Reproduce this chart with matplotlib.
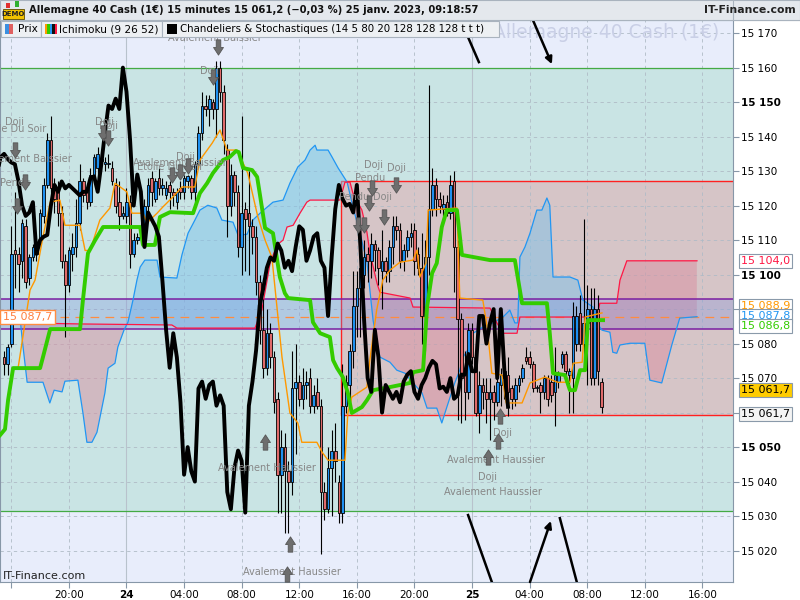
import numpy as np
import matplotlib
matplotlib.use("Agg")
import matplotlib.pyplot as plt
from matplotlib.path import Path
from matplotlib.patches import Rectangle
from matplotlib.transforms import blended_transform_factory

# 15 min candles, index 0 = 23 janv. 15:30
opens = [15076, 15074, 15080, 15107, 15106, 15104, 15114, 15099, 15105, 15108,
         15110, 15117, 15126, 15139, 15126, 15124, 15118, 15104, 15097, 15106,
         15108, 15115, 15127, 15124, 15121, 15129, 15131, 15133, 15132, 15132,
         15131, 15126, 15121, 15117, 15117, 15121, 15106, 15110, 15111, 15111,
         15120, 15128, 15122, 15128, 15125, 15123, 15126, 15124, 15121, 15125,
         15124, 15127, 15128, 15124, 15132, 15141, 15149, 15148, 15150, 15148,
         15160, 15153, 15136, 15120, 15129, 15124, 15108, 15119, 15118, 15114,
         15111, 15098, 15084, 15073, 15083, 15076, 15064, 15042, 15050, 15043,
         15040, 15067, 15069, 15064, 15068, 15070, 15062, 15066, 15062, 15037,
         15032, 15044, 15049, 15040, 15031, 15062, 15068, 15078, 15091, 15096,
         15100, 15106, 15104, 15109, 15107, 15101, 15104, 15101, 15108, 15114,
         15113, 15104, 15107, 15111, 15113, 15106, 15102, 15088, 15105, 15119,
         15126, 15122, 15119, 15121, 15118, 15127, 15108, 15087, 15072, 15066,
         15084, 15076, 15060, 15068, 15066, 15064, 15066, 15063, 15068, 15070,
         15071, 15067, 15064, 15068, 15070, 15076, 15076, 15074, 15067, 15068,
         15066, 15070, 15069, 15066, 15069, 15074, 15077, 15071, 15070, 15080,
         15089, 15080, 15086, 15090, 15070, 15090, 15069]
highs = [15078, 15080, 15114, 15124, 15108, 15116, 15116, 15106, 15109, 15110,
         15119, 15128, 15141, 15146, 15128, 15127, 15120, 15106, 15108, 15112,
         15122, 15132, 15128, 15125, 15131, 15135, 15137, 15135, 15134, 15135,
         15133, 15128, 15127, 15120, 15125, 15123, 15112, 15112, 15115, 15122,
         15128, 15130, 15128, 15131, 15128, 15127, 15127, 15125, 15125, 15127,
         15129, 15129, 15129, 15133, 15143, 15153, 15152, 15152, 15151, 15162,
         15162, 15155, 15138, 15132, 15130, 15126, 15146, 15121, 15130, 15116,
         15114, 15100, 15093, 15090, 15086, 15078, 15066, 15055, 15054, 15046,
         15078, 15080, 15071, 15073, 15072, 15073, 15068, 15070, 15064, 15040,
         15050, 15055, 15057, 15042, 15074, 15071, 15080, 15101, 15101, 15105,
         15110, 15108, 15112, 15110, 15108, 15113, 15105, 15110, 15117, 15117,
         15115, 15109, 15113, 15115, 15115, 15108, 15112, 15110, 15155, 15131,
         15128, 15124, 15123, 15123, 15129, 15130, 15110, 15089, 15078, 15086,
         15086, 15080, 15072, 15070, 15070, 15070, 15068, 15072, 15073, 15074,
         15076, 15068, 15070, 15071, 15074, 15079, 15078, 15075, 15068, 15069,
         15071, 15071, 15071, 15079, 15072, 15078, 15078, 15073, 15092, 15091,
         15094, 15116, 15097, 15096, 15096, 15094, 15070]
lows = [15071, 15071, 15079, 15096, 15095, 15099, 15096, 15097, 15104, 15104,
        15109, 15115, 15125, 15122, 15118, 15114, 15102, 15082, 15095, 15101,
        15105, 15113, 15121, 15119, 15120, 15127, 15127, 15130, 15130, 15131,
        15126, 15118, 15113, 15116, 15115, 15102, 15105, 15109, 15109, 15110,
        15118, 15120, 15121, 15123, 15123, 15122, 15119, 15120, 15119, 15122,
        15122, 15125, 15122, 15121, 15131, 15139, 15146, 15143, 15145, 15140,
        15150, 15135, 15111, 15117, 15120, 15105, 15100, 15101, 15100, 15106,
        15094, 15080, 15070, 15071, 15073, 15060, 15031, 15031, 15025, 15025,
        15036, 15048, 15062, 15061, 15064, 15060, 15060, 15061, 15019, 15029,
        15031, 15030, 15040, 15028, 15028, 15060, 15063, 15073, 15082, 15082,
        15096, 15098, 15099, 15101, 15097, 15090, 15098, 15098, 15103, 15110,
        15102, 15101, 15105, 15108, 15100, 15100, 15080, 15078, 15100, 15117,
        15117, 15118, 15117, 15117, 15116, 15095, 15058, 15057, 15058, 15064,
        15074, 15059, 15054, 15061, 15057, 15052, 15058, 15062, 15062, 15064,
        15059, 15061, 15062, 15066, 15069, 15074, 15073, 15066, 15066, 15060,
        15064, 15062, 15063, 15056, 15067, 15073, 15069, 15060, 15060, 15078,
        15078, 15073, 15068, 15068, 15068, 15068, 15060]
closes = [15074, 15079, 15106, 15106, 15103, 15115, 15098, 15105, 15108, 15106,
          15118, 15126, 15139, 15125, 15122, 15118, 15104, 15097, 15107, 15108,
          15115, 15127, 15123, 15121, 15129, 15134, 15135, 15133.5, 15132.5, 15132,
          15127, 15120, 15117, 15118, 15121, 15106, 15110, 15111, 15111.5, 15120,
          15126, 15124, 15127, 15125, 15126, 15125, 15124, 15123, 15124, 15124,
          15128, 15128.5, 15124, 15132, 15141, 15149, 15148, 15151, 15148, 15160,
          15153, 15139, 15120, 15129, 15124, 15108, 15118, 15116, 15114, 15111,
          15098, 15084, 15073, 15083, 15076, 15063, 15042, 15050, 15043, 15040,
          15067, 15069, 15064, 15068, 15069, 15062, 15065, 15062, 15037, 15032,
          15044, 15049, 15046, 15031, 15062, 15069, 15078, 15091, 15096, 15102,
          15105, 15104, 15109, 15107, 15102, 15104, 15101, 15108, 15114, 15113,
          15104, 15107, 15111, 15112, 15104, 15102, 15088, 15105, 15119, 15126,
          15122, 15120, 15120.5, 15118, 15126, 15108, 15087, 15070, 15066, 15084,
          15076, 15060, 15068, 15066, 15064, 15066, 15063, 15069, 15071, 15072,
          15066, 15064, 15068, 15070, 15073, 15075, 15074, 15067, 15067.5, 15066,
          15070, 15064, 15065, 15071, 15071, 15077, 15072, 15072, 15088, 15088,
          15080, 15086, 15090, 15070, 15090, 15072, 15061.7]

# Ichimoku lines (candle index, price)
tenkan_i = [3.9, 7.2, 8.6, 10.8, 12.8, 15.5, 16.9, 21.1, 22.5, 23.9, 26.6, 29.4, 30.8,
            34.1, 35.5, 38.6, 39.7, 42.5, 44.1, 46.9, 49.4, 53, 54.4, 57.8, 60, 61.9,
            64.7, 67.7, 70.5, 72.5, 74.4, 75.8, 77.2, 79.4, 81.6, 82.7, 86.9, 88.3, 90,
            94.7, 95.5, 96.6, 100.8, 101.6, 103.5, 105.2, 107.2, 110, 113.6, 114.7,
            115.5, 117.2, 117.8, 125.8, 126.6, 133, 134.2, 135.5, 138.3, 139.5, 143.9,
            146.1, 150.3, 153.7, 157.2, 158.1, 160.6, 161.4, 166.1]
tenkan_p = [15073, 15095.5, 15098.4, 15111, 15121, 15121.6, 15114.3, 15114.3, 15107,
            15107, 15115.8, 15119.3, 15126.5, 15124, 15117.8, 15117.8, 15115, 15117.8,
            15119.6, 15122.5, 15125.4, 15125.4, 15133.2, 15138.1, 15141.9, 15136.1,
            15136.1, 15129.4, 15116.7, 15110, 15105, 15090.6, 15076.1, 15059.9, 15057,
            15051.4, 15051.4, 15048.6, 15046.2, 15046.2, 15059.9, 15064.5, 15067.4,
            15075.2, 15089.7, 15098.4, 15101.3, 15103.6, 15104.2, 15107.1, 15099.3,
            15103.3, 15118.7, 15119.3, 15093.2, 15092.6, 15084.8, 15071.4, 15070.9,
            15062.8, 15062.8, 15068.6, 15070.3, 15068.8, 15068.8, 15074.3, 15074.6,
            15087.7, 15088.9]

kijun_i = [-1.1, 0.25, 1.1, 2.5, 10, 10.8, 12.8, 21.1, 21.9, 23.3, 25.3, 27.5, 37.8,
           38.6, 41.9, 43.3, 46.1, 52.5, 54.4, 56.4, 58, 60.8, 62.7, 64.4, 65.2, 66.4,
           68.9, 70.3, 71.1, 72.5, 74.7, 76.6, 78, 78.9, 85, 85.8, 87.8, 90.5, 91.4,
           92.5, 94.1, 95.5, 96.6, 99.4, 100.8, 102.5, 107.2, 112.8, 113.6, 116.4,
           117.5, 118.9, 120.2, 121.6, 123, 125.8, 127.2, 135, 141.9, 143.9, 150.8,
           151.6, 152.5, 155.8, 157.2, 158.6, 160, 161.4, 162.2, 166.4]
kijun_p = [15053.5, 15055.2, 15063.6, 15072.9, 15072.9, 15076.1, 15084.2, 15084.2,
           15092.6, 15106.2, 15110, 15113.8, 15113.8, 15108.6, 15108.6, 15116.7,
           15118.1, 15117.8, 15123.6, 15126.5, 15129.4, 15133.2, 15134.1, 15135.8,
           15135.5, 15130.9, 15130.3, 15128.3, 15123, 15113.5, 15112, 15099.3,
           15094.6, 15093.2, 15092.6, 15086.2, 15083, 15081.9, 15075.2, 15072.9,
           15070.3, 15065.7, 15059.9, 15061.6, 15063.6, 15066.5, 15067.4, 15068.6,
           15071.7, 15072.3, 15090.6, 15100.4, 15103.3, 15113.8, 15118.7, 15118.7,
           15105.7, 15104.2, 15104.2, 15091.7, 15091.7, 15083, 15071.4, 15070.9,
           15066.5, 15066.5, 15072.3, 15072.3, 15086.8, 15086.8]

ssa_i = [3.6, 4.4, 5.2, 6.4, 10.8, 12.7, 13.9, 16.1, 16.9, 20.5, 21.9, 23, 24.4, 25.8,
         28, 28.9, 30.8, 31.6, 33.3, 34.4, 35.8, 36.9, 37.8, 39.1, 42.5, 43.3, 48,
         49.4, 51.1, 53, 54.4, 56.6, 59.1, 60.5, 63.6, 65, 67.5, 69.1, 71.1, 74.7,
         77.5, 79.4, 81.6, 83.6, 85, 86.4, 86.9, 90, 91.1, 92.8, 95.3, 96.9, 98.9,
         100.8, 102.5, 104.4, 107.2, 109.1, 111.4, 113.6, 116.1, 117.5, 120.2, 121.6,
         123, 125.2, 126.6, 127.5, 129.4, 130.3, 133, 135.8, 138.6, 140.5, 141.9,
         142.7, 143.3, 144.7, 146.1, 148, 149.4, 150.8, 151.6, 152.5, 157.2, 159.4,
         160.8, 163.6, 164.7, 166.1, 168.3, 169.1, 170.2, 171.1, 173.9, 178, 179.4,
         182.7, 185.5, 187.7, 192.5]
ssa_p = [15087.4, 15087.7, 15079.6, 15068.8, 15068.8, 15062.8, 15066.5, 15066,
         15069.1, 15069.4, 15059.9, 15051.4, 15051.4, 15054.3, 15065.7, 15072.9,
         15074.3, 15079, 15083.9, 15086.2, 15092.6, 15098.4, 15102.2, 15104.2,
         15104.2, 15099.3, 15099, 15105.7, 15112, 15115.8, 15118.7, 15120.1,
         15119.3, 15115.8, 15115.2, 15111.4, 15111.7, 15115.8, 15117.8, 15121,
         15121.6, 15126.5, 15131.2, 15133.2, 15136.1, 15137.5, 15136.1, 15136.1,
         15134.1, 15130.9, 15126.8, 15119.6, 15112, 15103.6, 15086.8, 15076.1,
         15074.6, 15072.3, 15071.4, 15068.6, 15065.7, 15061.3, 15061.3, 15057,
         15061.6, 15068.6, 15072.3, 15076.1, 15079, 15083, 15084.8, 15086, 15087.7,
         15089.7, 15086, 15086, 15105.1, 15108, 15112, 15118.7, 15118.7, 15122.2,
         15120.1, 15099.3, 15099.3, 15098.4, 15092.6, 15090.6, 15086, 15083.9,
         15083.3, 15077.5, 15077.2, 15079.6, 15080.1, 15080.1, 15069.4, 15068.6,
         15079.6, 15087.4, 15087.8]

ssb_i = [3.6, 5, 21.1, 46.6, 48, 69.7, 71.6, 73.9, 75.8, 77.5, 78.6, 80.3, 82.2, 84.1,
         85, 93.3, 94.7, 96.1, 96.9, 99.4, 100.8, 101.6, 103.6, 104.4, 112.8, 113.6,
         135, 136.9, 138.6, 142.5, 143.3, 164.7, 165.5, 170.2, 171.1, 173, 192.5]
ssb_p = [15087.4, 15086, 15085.7, 15085.4, 15084.5, 15084.5, 15089.7, 15103.3,
         15108.6, 15110, 15113.8, 15114.3, 15117.8, 15121, 15121.6, 15121.6,
         15126.8, 15126.8, 15123.6, 15118.7, 15112.3, 15106.5, 15097.5, 15094.9,
         15093.2, 15090.6, 15090.3, 15086, 15083, 15083, 15087.7, 15087.7, 15091.7,
         15091.7, 15098.4, 15104, 15104]

# drawn lines of the user (start index, start price, end index, end price, arrow head)
drawn_lines = [(128.9, 15168.8, 131.9, 15161.6, False),
               (146.9, 15173.8, 152.2, 15161.0, True),
               (128.9, 15030.3, 135.5, 15010.9, False),
               (146.1, 15010.9, 151.9, 15028.6, True),
               (154.4, 15029.4, 159.1, 15010.9, False)]

xtick_i = [2, 18, 34, 50, 66, 82, 98, 114, 130, 146, 162, 178, 194]
xtick_lbl = ['', '20:00', '24', '04:00', '08:00', '12:00', '16:00', '20:00', '25',
             '04:00', '08:00', '12:00', '16:00']

stoch_hi, stoch_lo = 15160, 15031.5
box_top, box_bot, box_start = 15127.1, 15059.3, 93.6
zone_hi, zone_lo = 15092.9, 15084.2
ref_level = 15087.7
last_price = 15061.7

FONT = 'DejaVu Sans'
plt.rcParams['font.family'] = [FONT]

fig = plt.figure(figsize=(8, 6), dpi=100)
fig.patch.set_facecolor('white')
ax = fig.add_axes([0, 18 / 600, 733 / 800, 562 / 600])
x0, x1 = -1.14, 202.5
ax.set_xlim(x0, x1)
ax.set_ylim(15010.9, 15173.8)
ax.set_facecolor('#E8EDFB')

# zones
ax.axhspan(stoch_lo, stoch_hi, color='#C9E4E4', zorder=0.1, lw=0)
for lv in (stoch_hi, stoch_lo):
    ax.axhline(lv, color='#44AA44', lw=0.9, zorder=0.6)
ax.add_patch(Rectangle((box_start, box_bot), x1 - box_start + 5, box_top - box_bot,
                       facecolor='#D6C5C7', edgecolor='none', zorder=0.2))
ax.plot([x1 + 5, box_start, box_start, x1 + 5], [box_top, box_top, box_bot, box_bot],
        color='#FF2020', lw=1, zorder=0.7)

# grid
for v in range(15020, 15171, 10):
    ax.axhline(v, color='#AFBBC6', lw=0.6, dashes=(4, 4), zorder=0.4)
for xi, lb in zip(xtick_i, xtick_lbl):
    if lb in ('24', '25'):
        ax.axvline(xi, color='#B8C2CC', lw=0.8, zorder=0.4)
    else:
        ax.axvline(xi, color='#AFBBC6', lw=0.6, dashes=(4, 4), zorder=0.4)

# cloud
xs = np.arange(min(ssa_i[0], ssb_i[0]), ssa_i[-1], 0.05)
a = np.interp(xs, ssa_i, ssa_p)
b = np.interp(xs, ssb_i, ssb_p)
ax.fill_between(xs, a, b, where=a >= b, color='#7EC3EA', alpha=0.5, lw=0, zorder=1)
ax.fill_between(xs, a, b, where=a < b, color='#D88FA0', alpha=0.5, lw=0, zorder=1)

# horizontal zone
ax.axhspan(zone_lo, zone_hi, color='#7A8FE0', alpha=0.3, lw=0, zorder=1.2)
for lv in (zone_hi, zone_lo):
    ax.axhline(lv, color='#7B1FA2', lw=1.1, zorder=1.3)
ax.axhline(ref_level, color='#FF8C40', lw=0.9, dashes=(7, 5), zorder=1.3)

ax.plot(ssa_i, ssa_p, color='#2196F3', lw=0.9, zorder=3)
ax.plot(ssb_i, ssb_p, color='#FF1744', lw=0.9, zorder=3)

# candles
idx = np.arange(len(closes))
o = np.array(opens)
c = np.array(closes)
up = c >= o
ax.vlines(idx, lows, highs, color='black', lw=0.8, zorder=4)
body = np.maximum(np.abs(c - o), 0.35)
ax.bar(idx, body, bottom=np.minimum(o, c), width=0.72,
       color=np.where(up, '#1E90F0', '#E06A6A'), edgecolor='black', lw=0.6, zorder=4.5)

ax.plot(tenkan_i, tenkan_p, color='#FF9800', lw=1.0, zorder=5)
ax.plot(kijun_i, kijun_p, color='#33CC00', lw=2.8, zorder=6, solid_joinstyle='round')
# chikou span: closes shifted back 26 periods
ax.plot(idx - 26, closes, color='black', lw=2.8, zorder=7, solid_joinstyle='round')

for xa, ya, xb, yb, head in drawn_lines:
    if head:
        ax.annotate('', xy=(xb, yb), xytext=(xa, ya),
                    arrowprops=dict(arrowstyle='-|>', color='black', lw=1.8,
                                    mutation_scale=10, shrinkA=0, shrinkB=0),
                    zorder=7, annotation_clip=False)
    else:
        ax.plot([xa, xb], [ya, yb], color='black', lw=1.8, zorder=7)

# candle pattern markers
down_arrow = Path([(-0.3, 1), (0.3, 1), (0.3, 0), (0.65, 0), (0, -1), (-0.65, 0),
                   (-0.3, 0), (-0.3, 1)],
                  [Path.MOVETO] + [Path.LINETO] * 6 + [Path.CLOSEPOLY])
up_arrow = Path([(x, -y) for x, y in down_arrow.vertices], down_arrow.codes)

labels = [('Étoile Du Soir', 2.5, 15142.3), ('Doji', 3.0, 15144.2),
          ('Avalement Baissier', 5.8, 15133.5), ('Pendu', 3.0, 15126.5),
          ('Doji', 27.8, 15144.2), ('Doji', 28.9, 15143.0),
          ('Étoile Du Soir', 46.1, 15131.2), ('Avalement Baissier', 48.9, 15132.3),
          ('Doji', 50.5, 15134.0), ('Doji', 57.2, 15159.0),
          ('Avalement Baissier', 58.6, 15168.5),
          ('Doji', 102.5, 15131.7), ('Doji', 108.9, 15130.9), ('Pendu', 101.6, 15128.0),
          ('Pendu', 97.2, 15122.5), ('Doji', 105.2, 15122.5),
          ('Avalement Haussier', 73.1, 15043.9), ('Avalement Haussier', 80.0, 15013.8),
          ('Doji', 138.6, 15054.0), ('Avalement Haussier', 136.6, 15046.2),
          ('Doji', 134.4, 15041.3), ('Avalement Haussier', 135.8, 15037.0)]
for txt, xi, yp in labels:
    ax.text(xi, yp, txt, color='#878787', fontsize=7, ha='center', va='center', zorder=8)

down_marks = [(3.0, 15136), (5.8, 15126.8), (3.6, 15120), (27.5, 15141), (28.9, 15139.6),
              (46.6, 15128.8), (48.9, 15129.7), (51.1, 15131.5), (58.0, 15157.2),
              (59.4, 15166), (102.2, 15125), (108.9, 15126), (101.4, 15120.7),
              (105.5, 15116.7), (98.3, 15114.3), (100.0, 15114.3)]
up_marks = [(72.5, 15051.4), (79.4, 15022), (78.6, 15013.2), (137.75, 15059),
            (137.2, 15051.7), (134.4, 15047.1)]
for pts, mk in ((down_marks, down_arrow), (up_marks, up_arrow)):
    ax.plot([p[0] for p in pts], [p[1] for p in pts], ls='none', marker=mk,
            markersize=11, color='#6E6E6E', markeredgecolor='#555555', mew=0.6, zorder=8.5)

ax.text(0.827, 0.978, 'Allemagne 40 Cash (1€)', transform=ax.transAxes, fontsize=13.5,
        color='#C9CFE6', ha='center', va='center', zorder=0.5)

# axes
ax.yaxis.tick_right()
yt = list(range(15020, 15171, 10))
ax.set_yticks(yt)
ax.set_yticklabels([f'{v:,}'.replace(',', ' ') for v in yt])
for lab, v in zip(ax.get_yticklabels(), yt):
    if v % 50 == 0:
        lab.set_fontweight('bold')
        lab.set_fontsize(8.5)
ax.set_xticks(xtick_i)
ax.set_xticklabels(xtick_lbl)
for lab in ax.get_xticklabels():
    if lab.get_text() in ('24', '25'):
        lab.set_fontweight('bold')
        lab.set_fontsize(8.5)
ax.tick_params(axis='both', direction='out', length=4, color='#8797A8',
               labelsize=7.5, pad=2)
for s in ax.spines.values():
    s.set_color('#8797A8')

# price labels on the right
tr = blended_transform_factory(ax.transAxes, ax.transData)
price_tags = [('15 104,0', 15104.0, '#FF1744', 'white'),
              ('15 088,9', 15090.9, '#FF9800', 'white'),
              ('15 087,8', 15088.0, '#2196F3', 'white'),
              ('15 086,8', 15085.1, '#33CC00', 'white'),
              ('15 061,7', 15066.5, 'black', '#FFCC00'),
              ('15 061,7', 15059.6, 'black', '#F4F4F4')]
for txt, yv, col, fc in price_tags:
    ax.text(1.011, yv, txt, transform=tr, color=col, fontsize=8, ha='left', va='center',
            bbox=dict(boxstyle='square,pad=0.18', fc=fc, ec='#8A9AAA', lw=0.8),
            zorder=9, clip_on=False)
ax.text(0.004, ref_level, '15 087,7', transform=tr, color='#FF7F3F', fontsize=8,
        ha='left', va='center', zorder=9,
        bbox=dict(boxstyle='square,pad=0.22', fc='white', ec='#FF8C40', lw=1))


def fpx(x, y):
    return x / 800, 1 - y / 600


def frect(x, y, w, h, **kw):
    fx, fy = fpx(x, y + h)
    fig.patches.append(Rectangle((fx, fy), w / 800, h / 600, transform=fig.transFigure,
                                 zorder=5, **kw))


# header
frect(0, 0, 800, 20, facecolor='#E4E8ED', edgecolor='#A9B3BE', lw=0.8)
frect(733, 0, 67, 20, facecolor='#E4E8ED', edgecolor='#A9B3BE', lw=0.8)
frect(3, 9, 21, 10, facecolor='#F2C200', edgecolor='#5A4A00', lw=0.6)
frect(6, 3, 4, 5, facecolor='#E03030', edgecolor='none')
frect(15, 1, 4, 6, facecolor='#30B030', edgecolor='none')
fig.text(*fpx(13.5, 14.5), 'DEMO', fontsize=5, fontweight='bold', ha='center',
         va='center', color='#222222', zorder=6)
fig.text(*fpx(29, 10), 'Allemagne 40 Cash (1€) 15 minutes 15 061,2 (−0,03 %) 25 janv. 2023, 09:18:57',
         fontsize=7.2, fontweight='bold', ha='left', va='center', color='#111111', zorder=6)
fig.text(*fpx(796, 10), 'IT-Finance.com', fontsize=7.8, fontweight='bold', ha='right',
         va='center', color='#222222', zorder=6)

# legend row
for bx, bw in ((1, 40), (41, 121), (162, 337)):
    frect(bx, 21, bw, 16, facecolor='#EDF0F3', edgecolor='#A9B3BE', lw=0.8)
frect(5, 24, 4, 10, facecolor='#3B8FE0', edgecolor='none')
frect(9, 24, 4, 10, facecolor='#E06060', edgecolor='none')
for k, col in enumerate(['#FF9800', '#33CC00', '#2196F3', '#111111', '#FF1744']):
    frect(45 + 2.4 * k, 24, 2.4, 10, facecolor=col, edgecolor='none')
frect(167, 24, 10, 10, facecolor='black', edgecolor='none')
fig.text(*fpx(18, 29), 'Prix', fontsize=7.6, ha='left', va='center', zorder=6)
fig.text(*fpx(59, 29), 'Ichimoku (9 26 52)', fontsize=7.6, ha='left', va='center', zorder=6)
fig.text(*fpx(180, 29), 'Chandeliers & Stochastiques (14 5 80 20 128 128 128 t t t)',
         fontsize=7.4, ha='left', va='center', zorder=6)

fig.text(*fpx(3, 576), 'IT-Finance.com', fontsize=8, ha='left', va='center',
         color='#222222', zorder=6)

fig.savefig('out.png', dpi=100, facecolor='white')
